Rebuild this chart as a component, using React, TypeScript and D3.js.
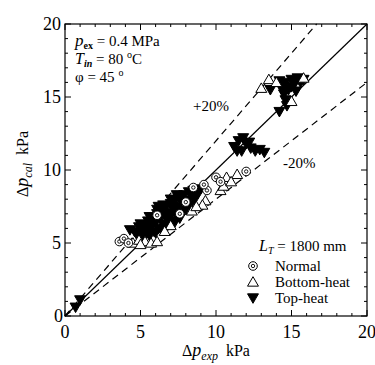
import React from "react";
import * as d3 from "d3";

const W = 375, H = 365;
const xDomain = [0, 20];
const yDomain = [0, 20];
const majorTicks = [0, 5, 10, 15, 20];
const minorTicks = d3.range(0, 21, 1);

const normal: [number, number][] = [
  [3.6, 5.1], [3.9, 5.3], [4.2, 5.0], [6.1, 6.9], [8.5, 8.8], [9.4, 8.6],
  [10.0, 9.5], [9.2, 9.0], [10.3, 9.2], [12.0, 9.9], [7.6, 7.0], [8.0, 7.8],
];
const bottomHeat: [number, number][] = [
  [13.0, 15.6], [13.5, 16.2], [15.0, 14.7], [15.8, 16.3], [14.0, 16.0],
  [10.7, 9.5], [11.4, 9.7], [10.3, 8.6], [9.3, 7.9], [9.1, 7.6], [10.5, 8.9], [11.0, 9.2],
  [4.5, 5.0], [4.9, 5.2], [5.3, 5.1], [5.7, 5.0], [6.1, 5.1], [5.0, 4.9],
  [8.4, 7.2], [8.7, 7.5], [7.0, 6.2], [6.6, 5.8],
];
const topHeat: [number, number][] = [
  [0.7, 0.6], [1.0, 1.1],
  [14.3, 15.8], [14.6, 16.0], [14.8, 15.5], [15.0, 16.2], [15.2, 15.9], [15.4, 16.3],
  [15.6, 16.0], [15.8, 16.2], [14.5, 15.2], [14.6, 14.8], [14.7, 14.4], [15.3, 15.4],
  [14.2, 16.1], [13.6, 15.5], [14.2, 14.0], [15.0, 15.7], [14.4, 15.5],
  [11.2, 11.6], [11.5, 12.0], [11.8, 12.2], [12.0, 11.8], [12.3, 11.5], [12.6, 11.3],
  [12.9, 11.4], [13.2, 11.2], [11.7, 11.3], [12.2, 11.9], [11.4, 11.3],
  [4.3, 5.9], [4.6, 5.8], [4.9, 6.1], [5.0, 5.7], [5.2, 6.2], [5.4, 5.9], [5.5, 6.5],
  [5.7, 6.1], [5.8, 6.8], [5.9, 5.8], [6.0, 6.4], [6.1, 7.0], [6.2, 6.0], [6.3, 6.7],
  [6.4, 7.2], [6.5, 6.3], [6.6, 6.9], [6.7, 7.5], [6.8, 6.6], [6.9, 7.1], [7.0, 7.7],
  [7.1, 6.5], [7.2, 7.3], [7.3, 7.9], [7.4, 6.9], [7.5, 7.5], [7.6, 8.1], [7.7, 7.1],
  [7.8, 7.7], [7.9, 8.3], [8.0, 7.3], [8.1, 7.9], [8.2, 8.5], [8.3, 7.6], [8.4, 8.2],
  [8.6, 8.0], [5.3, 5.6], [5.6, 5.5], [6.0, 5.7], [6.4, 5.9], [6.8, 6.2], [7.2, 6.3],
  [7.6, 6.7], [4.8, 5.5], [5.1, 5.4], [6.5, 7.6], [6.1, 7.3], [7.0, 8.0], [7.4, 8.3],
  [8.8, 8.4], [9.0, 8.7], [5.6, 6.8], [6.2, 7.5], [6.7, 6.1], [7.3, 7.0], [7.9, 7.4],
  [8.5, 8.6], [5.0, 6.3], [5.8, 6.3], [7.1, 7.5], [6.9, 6.8],
];
const refLines = [
  { slope: 1.0, dashed: false },
  { slope: 1.2, dashed: true },
  { slope: 0.8, dashed: true },
];

const FONT = "Liberation Serif";

export default function App() {
  const x = d3.scaleLinear().domain(xDomain).range([65, 367]);
  const y = d3.scaleLinear().domain(yDomain).range([316, 24]);
  const tri = d3.symbol().type(d3.symbolTriangle).size(52)() as string;

  const lineEnd = (s: number) => {
    const xe = Math.min(20, 20 / s);
    return [xe, xe * s];
  };

  const Circ = ({ cx, cy }: { cx: number; cy: number }) => (
    <g transform={`translate(${cx},${cy})`}>
      <circle r={4.3} fill="white" stroke="black" strokeWidth={1} />
      <circle r={1.7} fill="none" stroke="black" strokeWidth={0.9} />
    </g>
  );
  const Up = ({ cx, cy }: { cx: number; cy: number }) => (
    <path d={tri} transform={`translate(${cx},${cy + 1})`} fill="white" stroke="black" strokeWidth={1} />
  );
  const Down = ({ cx, cy }: { cx: number; cy: number }) => (
    <path d={tri} transform={`translate(${cx},${cy - 1}) rotate(180)`} fill="black" stroke="black" strokeWidth={1} />
  );

  const T = (props: any) => <text fontFamily={FONT} style={{ fontFamily: FONT }} {...props} />;

  return (
    <svg width={W} height={H} style={{ position: "absolute", left: 0, top: 0, background: "white" }}>
      <rect width={W} height={H} fill="white" />
      {refLines.map((l, i) => {
        const [xe, ye] = lineEnd(l.slope);
        return (
          <line key={i} x1={x(0)} y1={y(0)} x2={x(xe)} y2={y(ye)} stroke="black"
            strokeWidth={1.2} strokeDasharray={l.dashed ? "7 5" : undefined} />
        );
      })}
      {topHeat.map((d, i) => <Down key={"t" + i} cx={x(d[0])} cy={y(d[1])} />)}
      {bottomHeat.map((d, i) => <Up key={"b" + i} cx={x(d[0])} cy={y(d[1])} />)}
      {normal.map((d, i) => <Circ key={"n" + i} cx={x(d[0])} cy={y(d[1])} />)}
      <rect x={x(0)} y={y(20)} width={x(20) - x(0)} height={y(0) - y(20)} fill="none" stroke="black" strokeWidth={1.2} />
      {minorTicks.map((t) => {
        const len = t % 5 === 0 ? 6 : 3;
        return (
          <g key={"tk" + t} stroke="black" strokeWidth={1}>
            <line x1={x(t)} x2={x(t)} y1={y(0)} y2={y(0) - len} />
            <line x1={x(t)} x2={x(t)} y1={y(20)} y2={y(20) + len} />
            <line y1={y(t)} y2={y(t)} x1={x(0)} x2={x(0) + len} />
            <line y1={y(t)} y2={y(t)} x1={x(20)} x2={x(20) - len} />
          </g>
        );
      })}
      {majorTicks.map((t) => (
        <T key={"xl" + t} x={x(t)} y={338} textAnchor="middle" fontSize={18}>{t}</T>
      ))}
      {majorTicks.map((t) => (
        <T key={"yl" + t} x={t === 0 ? 63 : 61} y={y(t) + 6} textAnchor="end" fontSize={18}>{t}</T>
      ))}
      <T x={216} y={356} textAnchor="middle" fontSize={16}>
        Δ<tspan fontStyle="italic" fontSize={18}>p</tspan>
        <tspan fontStyle="italic" fontSize={12} dy={4}>exp</tspan>
        <tspan dy={-4}>{"\u00a0\u00a0kPa"}</tspan>
      </T>
      <T transform="translate(28,164) rotate(-90)" textAnchor="middle" fontSize={16}>
        Δ<tspan fontStyle="italic" fontSize={18}>p</tspan>
        <tspan fontStyle="italic" fontSize={12} dy={4}>cal</tspan>
        <tspan dy={-4}>{"\u00a0\u00a0kPa"}</tspan>
      </T>
      <T x={75} y={46} fontSize={15}>
        <tspan fontStyle="italic" fontSize={17}>p</tspan>
        <tspan fontSize={10} fontWeight="bold" dy={3}>ex</tspan>
        <tspan dy={-3}> = 0.4 MPa</tspan>
      </T>
      <T x={75} y={64} fontSize={15}>
        <tspan fontStyle="italic" fontSize={16}>T</tspan>
        <tspan fontSize={10} fontStyle="italic" fontWeight="bold" dy={3}>in</tspan>
        <tspan dy={-3}> = 80 </tspan>
        <tspan fontSize={10} dy={-6}>o</tspan>
        <tspan dy={6}>C</tspan>
      </T>
      <T x={75} y={82} fontSize={15}>
        <tspan>φ = 45 </tspan>
        <tspan fontSize={10} dy={-6}>o</tspan>
      </T>
      <T x={193} y={111} fontSize={15}>+20%</T>
      <T x={283} y={168} fontSize={15}>-20%</T>
      <T x={259} y={251} fontSize={15}>
        <tspan fontStyle="italic" fontSize={16}>L</tspan>
        <tspan fontSize={10} fontStyle="italic" dy={3}>T</tspan>
        <tspan dy={-3}> = 1800 mm</tspan>
      </T>
      <Circ cx={253} cy={266} />
      <Up cx={253} cy={282} />
      <Down cx={253} cy={298} />
      <T x={275} y={271} fontSize={15}>Normal</T>
      <T x={275} y={287} fontSize={15}>Bottom-heat</T>
      <T x={275} y={303} fontSize={15}>Top-heat</T>
    </svg>
  );
}
